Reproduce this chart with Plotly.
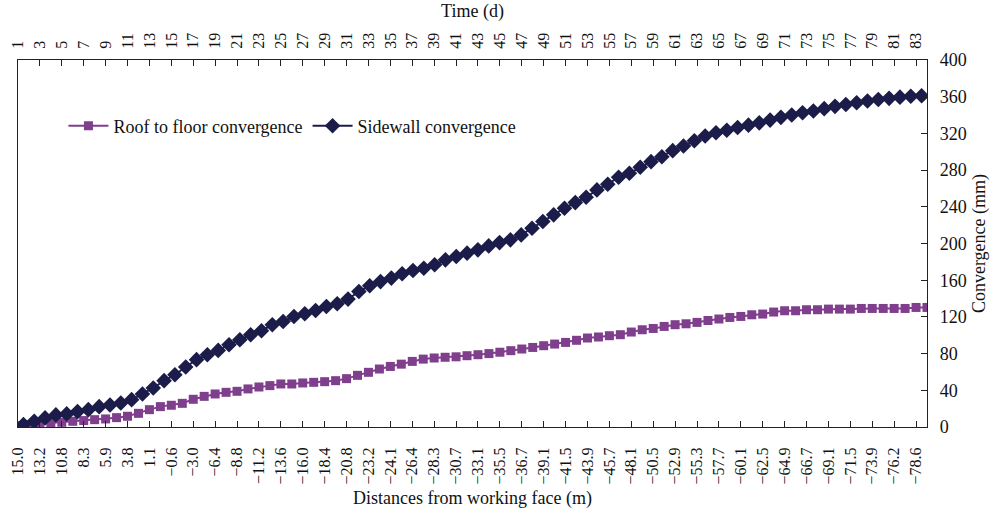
import plotly.graph_objects as go

days = list(range(1, 85))
top_tick_days = list(range(1, 84, 2))
distance_labels = ["15.0", "13.2", "10.8", "8.3", "5.9", "3.8", "1.1", "−0.6", "−3.0", "−6.4",
                   "−8.8", "−11.2", "−13.6", "−16.0", "−18.4", "−20.8", "−23.2", "−24.1", "−26.4", "−28.3",
                   "−30.7", "−33.1", "−35.5", "−36.7", "−39.1", "−41.5", "−43.9", "−45.7", "−48.1", "−50.5",
                   "−52.9", "−55.3", "−57.7", "−60.1", "−62.5", "−64.9", "−66.7", "−69.1", "−71.5", "−73.9",
                   "−76.2", "−78.6"]

roof_floor = [1.5, 2.5, 3.4, 4.4, 5.1, 6.2, 7.0, 8.0, 8.8, 10.2,
              11.7, 14.9, 18.9, 22.2, 23.7, 25.8, 30.2, 33.4, 36.0, 37.8,
              38.9, 41.5, 43.6, 45.1, 46.9, 46.9, 48.0, 48.7, 49.4, 50.5,
              52.7, 56.3, 59.6, 63.2, 66.0, 68.5, 71.5, 74.0, 75.2, 76.0,
              76.5, 77.7, 78.8, 80.0, 81.5, 83.2, 85.0, 86.7, 88.6, 90.4,
              92.2, 94.5, 97.0, 98.1, 99.5, 100.6, 103.5, 106.0, 107.4, 109.6,
              111.5, 112.5, 114.0, 116.1, 117.7, 119.4, 120.5, 122.3, 123.1, 125.3,
              126.7, 126.7, 127.8, 127.8, 128.5, 128.5, 128.5, 129.2, 129.2, 129.2,
              129.2, 129.2, 130.3, 130.3]

sidewall = [2.6, 6.2, 9.9, 13.2, 14.3, 16.8, 18.9, 22.2, 24.0, 26.2,
            29.8, 36.0, 42.5, 50.5, 57.0, 65.4, 73.4, 78.8, 83.5, 89.7,
            95.1, 100.6, 104.9, 111.4, 115.0, 120.5, 123.4, 127.0, 131.4, 134.3,
            139.4, 147.7, 153.9, 158.5, 162.3, 167.0, 170.6, 173.1, 176.8, 182.2,
            185.8, 189.5, 193.1, 197.4, 201.0, 204.0, 209.4, 216.7, 223.9, 231.2,
            238.5, 244.6, 250.4, 258.4, 264.6, 272.2, 276.5, 283.1, 289.2, 294.6,
            301.2, 306.3, 312.0, 317.2, 320.7, 323.5, 326.5, 329.0, 331.5, 334.5,
            337.5, 340.0, 342.5, 344.4, 347.0, 349.5, 351.5, 353.4, 355.3, 357.0,
            358.2, 359.5, 360.5, 361.0]

FONT = "Liberation Serif, Times New Roman, serif"
PURPLE = "#7f3f8c"
NAVY = "#1b1c4a"

fig = go.Figure()
fig.add_trace(go.Scatter(
    x=days, y=roof_floor, name="Roof to floor convergence", mode="lines+markers",
    line=dict(color=PURPLE, width=2), marker=dict(symbol="square", size=9, color=PURPLE),
    xaxis="x", yaxis="y"))
fig.add_trace(go.Scatter(
    x=days, y=sidewall, name="Sidewall convergence", mode="lines+markers",
    line=dict(color=NAVY, width=2), marker=dict(symbol="diamond", size=12, color=NAVY),
    xaxis="x3", yaxis="y"))
# invisible trace to activate the top axis
fig.add_trace(go.Scatter(x=[days[0], days[-1]], y=[None, None], xaxis="x2", yaxis="y",
                         showlegend=False, hoverinfo="skip"))

axis_common = dict(showline=True, linecolor="#222", linewidth=1.3, showgrid=False,
                   zeroline=False, ticks="inside", ticklen=6, tickcolor="#222", tickwidth=1,
                   automargin=False)

fig.update_layout(
    width=995, height=513,
    margin=dict(l=18, r=68, t=60, b=86),
    paper_bgcolor="white", plot_bgcolor="white",
    font=dict(family=FONT, size=16, color="#111"),
    xaxis=dict(range=[1, 84], tickmode="array", tickvals=top_tick_days, ticktext=distance_labels,
               tickangle=-90, side="bottom", tickfont=dict(size=16), ticklabelstandoff=13,
               title=dict(text="Distances from working face (m)", font=dict(size=18), standoff=7),
               **axis_common),
    xaxis2=dict(range=[1, 84], overlaying="x", side="top", tickmode="array",
                tickvals=top_tick_days, ticktext=[str(d) for d in top_tick_days],
                tickangle=-90, tickfont=dict(size=16), ticklabelstandoff=7,
                title=dict(text="Time (d)", font=dict(size=18), standoff=10),
                **axis_common),
    xaxis3=dict(range=[0.5, 84.5], overlaying="x", visible=False),
    yaxis=dict(range=[0, 400], dtick=40, side="right", mirror=True, tickfont=dict(size=18),
               ticklabelstandoff=8,
               title=dict(text="Convergence (mm)", font=dict(size=18), standoff=6),
               **axis_common),
    legend=dict(orientation="h", x=0.05, y=0.82, xanchor="left", yanchor="middle",
                font=dict(size=18), bgcolor="rgba(0,0,0,0)", itemwidth=40),
    showlegend=True,
)

# remove the default page margin so the figure fills the window exactly
fig.write_html("out.html", config={"displayModeBar": False},
               post_script="document.body.style.margin='0px';document.body.style.overflow='hidden';")
